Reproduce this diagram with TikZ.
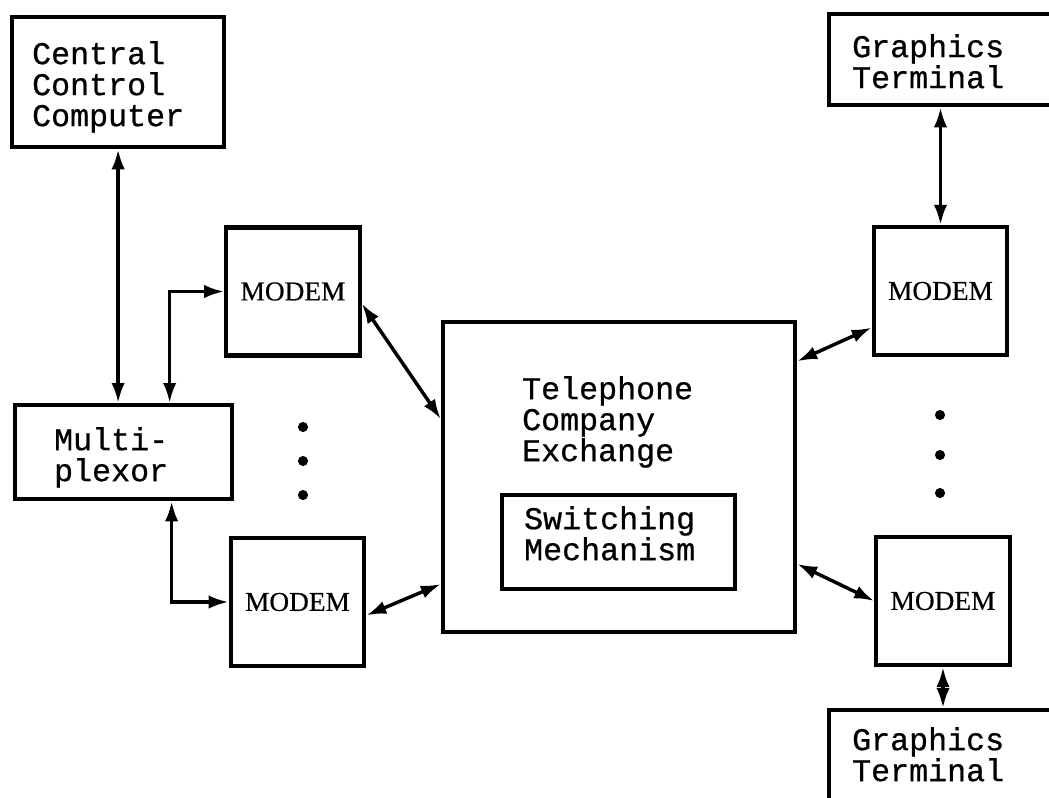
\documentclass[tikz,border=0pt]{standalone}
\usepackage{fontspec}
\setmainfont{Liberation Mono}[FakeBold=0.7]
\newfontfamily\modemfont{Liberation Serif}[FakeBold=0.4]
\usepackage{tikz}
\usetikzlibrary{positioning}
\usetikzlibrary{arrows.meta}
\usetikzlibrary{calc}

\begin{document}
\begin{tikzpicture}[x=0.75pt,y=-0.75pt,
    box/.style={draw=black,line width=3.2pt,anchor=north west,align=left,
        text height=15pt,font=\fontsize{23.75pt}{23.25pt}\selectfont},
    modem/.style={draw=black,line width=3.2pt,minimum width=100pt,minimum height=96pt,
        font=\modemfont\fontsize{20.5pt}{24pt}\selectfont},
    both/.style={{Latex[length=15pt,width=10pt]}-{Latex[length=15pt,width=10pt]},line width=2.6pt}]
    \useasboundingbox (0,0) rectangle (1049,797);

    \node[box,inner xsep=15pt,inner ysep=20.25pt,text width=129pt,text depth=42pt] (CCC) at (10,15) {Central\\Control\\Computer};
    \node[box,inner xsep=29.25pt,inner ysep=18.75pt,text width=104.25pt,text depth=18pt] (MUX) at (13,403) {Multi-\\plexor};

    \node[modem] (M_L1) at (293,291.5) {MODEM};
    \node[modem] (M_L2) at (297.5,602) {MODEM};
    \node[modem] (M_R1) at (940.5,291) {MODEM};
    \node[modem] (M_R2) at (943,601) {MODEM};

    \node[draw=black,line width=3.2pt,minimum width=264pt,minimum height=232.5pt,inner sep=0pt] (TCE) at (619,477) {};
    \node[box,draw=none,inner sep=0pt,text width=150pt] (TCE_text) at (520,377) {Telephone\\Company\\Exchange};
    \node[box,inner xsep=16.5pt,inner ysep=10.5pt,text width=141.75pt,text depth=34.5pt] (SW) at (500,493) {Switching\\Mechanism};

    \node[box,inner xsep=17.25pt,inner ysep=17.25pt,text width=150pt,text depth=18.75pt] (GT_1) at (827,12) {Graphics\\Terminal};
    \node[box,inner xsep=17.25pt,inner ysep=15pt,text width=150pt,text depth=75pt] (GT_2) at (827,708) {Graphics\\Terminal};

    \foreach \y in {427,461,495} \fill (303,\y) circle (3.8pt);
    \foreach \y in {415,455,493} \fill (940,\y) circle (3.8pt);

    \draw[both] (CCC.south) -- (CCC.south |- MUX.north);
    \draw[both] ($(MUX.north)+(46,0)$) |- (M_L1.west);
    \draw[both] ($(MUX.south)+(48,0)$) |- (M_L2.west);
    \draw[both] (M_L1.-10) -- (TCE.162);
    \draw[both] (M_L2.-11) -- (TCE.211);
    \draw[both] (TCE.33) -- (M_R1.208);
    \draw[both] (TCE.-26) -- (M_R2.west);
    \draw[both] (M_R1.north) -- (M_R1.north |- GT_1.south);
    \draw[both] (M_R2.south) -- (M_R2.south |- GT_2.north);
\end{tikzpicture}
\end{document}
